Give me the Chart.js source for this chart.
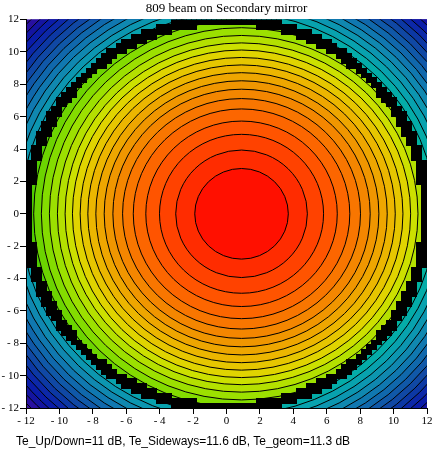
<!DOCTYPE html>
<html>
<head>
<meta charset="utf-8">
<script src="https://cdn.jsdelivr.net/npm/chart.js@4.4.1/dist/chart.umd.min.js"></script>
<style>
    body { margin: 0; background: #fff; }
    #wrap { position: relative; width: 437px; height: 459px; }
    #note {
        position: absolute; left: 16px; top: 434px;
        font: 12px "Liberation Sans", Arial, sans-serif; color: #000;
        white-space: nowrap;
    }
</style>
</head>
<body>
<div id="wrap">
    <canvas id="beamChart" width="437" height="459"></canvas>
    <div id="note"></div>
</div>
<script>
// Beam footprint on the secondary mirror, drawn as a filled contour map

const titleText = '809 beam on Secondary mirror';
const noteText = 'Te_Up/Down=11 dB, Te_Sideways=11.6 dB, Te_geom=11.3 dB';

const tickValues = [-12, -10, -8, -6, -4, -2, 0, 2, 4, 6, 8, 10, 12];
const tickLabels = ['- 12', '- 10', '- 8', '- 6', '- 4', '- 2', '0', '2', '4', '6', '8', '10', '12'];

// illuminated part (inside the mirror rim): contour radii around the beam centre
const beamCenter = [0.9, 0];
const beamContourRadii = [2.8, 3.94, 4.91, 5.73, 6.48, 7.12, 7.7, 8.22, 8.72, 9.2, 9.66, 10.12, 10.56, 11.02, 11.5, 11.98, 12.44];
const beamBandColors = [
    '#ff1000', '#ff2c00', '#ff4200', '#ff5400', '#fc6600', '#f87600',
    '#f48600', '#f09600', '#eea600', '#ecb600', '#e6c600', '#e0d400',
    '#cce000', '#b4e000', '#9ce000', '#84dc00', '#6cd400', '#50cc00'
];

// spillover part (outside the rim)
const spillCenter = [0.5, 0];
const spillContourRadii = [12.0, 12.42, 12.84, 13.25, 13.66, 14.06, 14.46, 14.85, 15.24, 15.62, 16.0, 16.38, 16.75, 17.12, 17.48];
const spillBandColors = [
    '#00b4a0', '#04aca8', '#08a2ae', '#0c96b0', '#1088b0', '#1078b0',
    '#1068ac', '#1058a8', '#1048a4', '#0c38a4', '#0c28a8', '#0a1ca8',
    '#1414a0', '#2810a0', '#3810a0', '#4810a0'
];

// mirror rim (black band), drawn as grid cells
const rimCenter = [0, 0];
const rimRadii = [11.7, 12.3];
const rimCellSize = 0.3;

const fieldPlugin = {
    id: 'contourField',
    beforeDraw: function (chart) {
        const ctx = chart.ctx;
        const a = chart.chartArea;
        const x = chart.scales.x;
        const y = chart.scales.y;
        const sx = x.getPixelForValue(1) - x.getPixelForValue(0);
        const sy = y.getPixelForValue(0) - y.getPixelForValue(1);

        function drawBands(center, radii, colors) {
            const cx = x.getPixelForValue(center[0]);
            const cy = y.getPixelForValue(center[1]);
            ctx.fillStyle = colors[colors.length - 1];
            ctx.fillRect(a.left, a.top, a.right - a.left, a.bottom - a.top);
            ctx.strokeStyle = '#000';
            ctx.lineWidth = 1;
            for (let i = radii.length - 1; i >= 0; i--) {
                ctx.beginPath();
                ctx.ellipse(cx, cy, radii[i] * sx, radii[i] * sy, 0, 0, 2 * Math.PI);
                ctx.fillStyle = colors[i];
                ctx.fill();
                ctx.stroke();
            }
        }

        ctx.save();
        ctx.beginPath();
        ctx.rect(a.left, a.top, a.right - a.left, a.bottom - a.top);
        ctx.clip();

        drawBands(spillCenter, spillContourRadii, spillBandColors);

        // inner field, clipped to the middle of the rim
        const rMid = (rimRadii[0] + rimRadii[1]) / 2;
        ctx.save();
        ctx.beginPath();
        ctx.ellipse(x.getPixelForValue(rimCenter[0]), y.getPixelForValue(rimCenter[1]),
            rMid * sx, rMid * sy, 0, 0, 2 * Math.PI);
        ctx.clip();
        drawBands(beamCenter, beamContourRadii, beamBandColors);
        ctx.restore();

        // rim cells
        ctx.fillStyle = '#000';
        const n = Math.round((x.max - x.min) / rimCellSize);
        for (let i = 0; i < n; i++) {
            for (let j = 0; j < n; j++) {
                const vx = x.min + (i + 0.5) * rimCellSize;
                const vy = y.min + (j + 0.5) * rimCellSize;
                const d = Math.hypot(vx - rimCenter[0], vy - rimCenter[1]);
                if (d < rimRadii[0] || d > rimRadii[1]) continue;
                const px0 = Math.floor(x.getPixelForValue(x.min + i * rimCellSize));
                const px1 = Math.ceil(x.getPixelForValue(x.min + (i + 1) * rimCellSize));
                const py0 = Math.floor(y.getPixelForValue(y.min + (j + 1) * rimCellSize));
                const py1 = Math.ceil(y.getPixelForValue(y.min + j * rimCellSize));
                ctx.fillRect(px0, py0, px1 - px0, py1 - py0);
            }
        }
        ctx.restore();
    }
};

const tickFont = { family: '"Liberation Serif", "Times New Roman", serif', size: 11 };

function axisOptions(size, isX) {
    return {
        type: 'linear',
        min: -12,
        max: 12,
        afterBuildTicks: function (axis) {
            axis.ticks = tickValues.map(v => ({ value: v }));
        },
        afterFit: function (axis) {
            if (isX) axis.height = size; else axis.width = size;
        },
        grid: {
            drawOnChartArea: false,
            drawTicks: true,
            tickLength: 6,
            color: '#000'
        },
        border: { display: true, color: '#000', width: 1 },
        ticks: {
            autoSkip: false,
            maxRotation: 0,
            padding: 1,
            color: '#000',
            font: tickFont,
            callback: function (value, index) {
                return tickLabels[index];
            }
        }
    };
}

document.getElementById('note').textContent = noteText;

new Chart(document.getElementById('beamChart'), {
    type: 'scatter',
    data: { datasets: [{ data: [], pointRadius: 0 }] },
    options: {
        responsive: false,
        animation: false,
        devicePixelRatio: 1,
        layout: { padding: { left: 0, right: 10, top: 0, bottom: 29 } },
        plugins: {
            legend: { display: false },
            tooltip: { enabled: false },
            title: {
                display: true,
                fullSize: false,
                text: titleText,
                color: '#000',
                font: { family: '"Liberation Serif", "Times New Roman", serif', size: 13, weight: 'normal' },
                padding: { top: 1, bottom: 3 }
            }
        },
        scales: {
            x: axisOptions(22, true),
            y: axisOptions(26, false)
        }
    },
    plugins: [fieldPlugin]
});
</script>
</body>
</html>
